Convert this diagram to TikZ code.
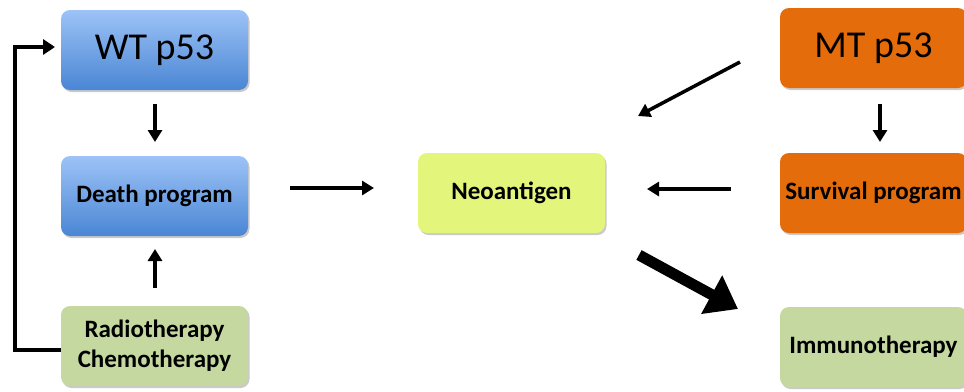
\documentclass[tikz,border=0pt]{standalone}
\usepackage{fontspec}
\setmainfont{Carlito}
\usetikzlibrary{arrows.meta,shadows,positioning}
\definecolor{bluetop}{HTML}{9DC3F7}
\definecolor{bluebot}{HTML}{4A86D4}
\definecolor{greenbox}{HTML}{C4D89F}
\definecolor{neobox}{HTML}{E4F57C}
\definecolor{orangebox}{HTML}{E46C0A}
\tikzset{
  box/.style={rounded corners=9pt, minimum width=187pt, minimum height=80pt, inner sep=0pt, align=center,
    drop shadow={shadow xshift=1.5pt, shadow yshift=-2pt, opacity=0.35, fill=black!60}},
  bluebox/.style={box, top color=bluetop, bottom color=bluebot},
  grbox/.style={box, fill=greenbox},
  nbox/.style={box, fill=neobox},
  orbox/.style={box, fill=orangebox},
  big/.style={font=\fontsize{38}{44}\selectfont},
  lab/.style={font=\fontsize{25}{30}\selectfont\bfseries},
  arr/.style={line width=3.5pt, -{Triangle[length=12pt,width=14pt]}},
  fatarr/.style={line width=11pt, -{Triangle[length=30pt,width=42pt]}}
}
\begin{document}
\begin{tikzpicture}[x=1pt,y=-1pt]
\useasboundingbox (0,0) rectangle (964,391);
\node[bluebox, big] (wt) at (154.5,50) {WT p53};
\node[bluebox, lab] (death) at (154.5,196) {Death program};
\node[grbox, lab] (chemo) at (154.5,346) {Radiotherapy\\Chemotherapy};
\node[nbox, lab] (neo) at (511.5,193) {Neoantigen};
\node[orbox, big] (mt) at (873.5,48) {MT p53};
\node[orbox, lab] (surv) at (873.5,193) {Survival program};
\node[grbox, lab] (immuno) at (873.5,347) {Immunotherapy};

\coordinate (a1s) at (155,104);
\coordinate (a1e) at (155,142);
\draw[arr] (a1s) -- (a1e);
\coordinate (a2s) at (155,288);
\coordinate (a2e) at (155,249);
\draw[arr] (a2s) -- (a2e);
\coordinate (fb1) at (15,350);
\coordinate (fb2) at (15,47);
\coordinate (fb3) at (55,47);
\draw[line width=4pt, -{Triangle[length=12pt,width=15pt]}] (chemo.west |- fb1) -- (fb1) -- (fb2) -- (fb3);
\coordinate (a3s) at (290,188);
\coordinate (a3e) at (374,188);
\draw[arr] (a3s) -- (a3e);
\coordinate (a4s) at (740,62);
\coordinate (a4e) at (638,116);
\draw[arr] (a4s) -- (a4e);
\coordinate (a5s) at (731,189);
\coordinate (a5e) at (647,189);
\draw[arr] (a5s) -- (a5e);
\coordinate (a6s) at (880,104);
\coordinate (a6e) at (880,142);
\draw[arr] (a6s) -- (a6e);
\coordinate (a7s) at (639,255);
\coordinate (a7e) at (738,309);
\draw[fatarr] (a7s) -- (a7e);
\end{tikzpicture}
\end{document}
